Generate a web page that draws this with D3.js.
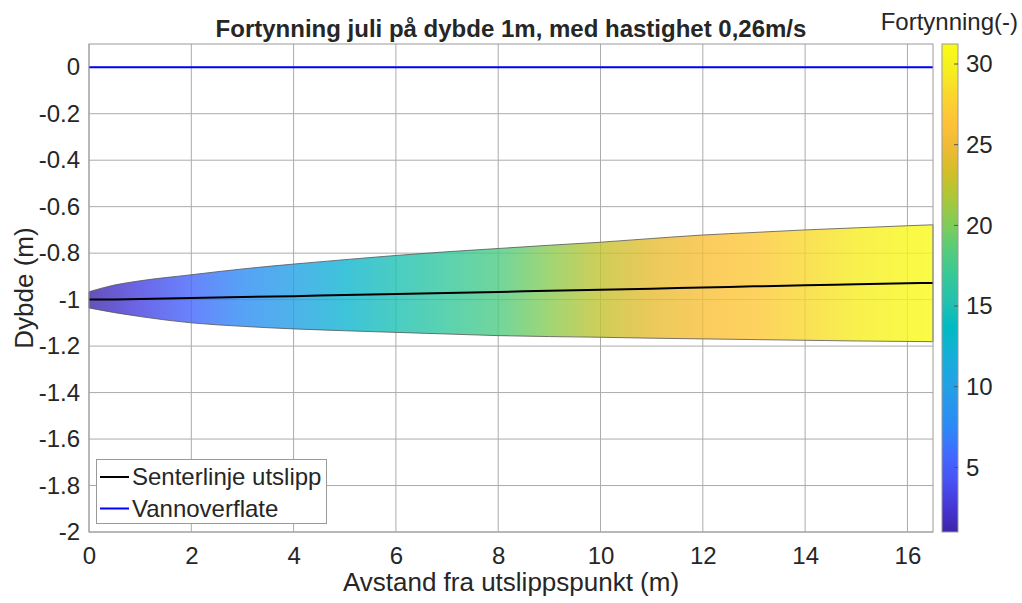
<!DOCTYPE html>
<html>
<head>
<meta charset="utf-8">
<script src="https://cdn.jsdelivr.net/npm/d3@7"></script>
<style>
  body { margin: 0; background: #fff; }
  text { font-family: "Liberation Sans", Arial, Helvetica, sans-serif; fill: #262626; }
</style>
</head>
<body>
<div id="chart"></div>
<script>
// data
var distance = [0, 0.5, 1, 2, 3, 4, 5, 6, 7, 8, 9, 10, 11, 12, 13, 14, 15, 16, 16.5];
var upperEdge = [-0.966, -0.937, -0.919, -0.893, -0.868, -0.847, -0.828, -0.810, -0.794, -0.780,
                 -0.766, -0.753, -0.737, -0.722, -0.711, -0.700, -0.691, -0.682, -0.678];
var lowerEdge = [-1.036, -1.056, -1.073, -1.100, -1.115, -1.126, -1.134, -1.141, -1.148, -1.155,
                 -1.159, -1.162, -1.166, -1.169, -1.172, -1.175, -1.178, -1.180, -1.181];
var centerline = [-1.000, -0.999, -0.997, -0.993, -0.989, -0.985, -0.980, -0.976, -0.971, -0.967,
                  -0.962, -0.958, -0.953, -0.948, -0.943, -0.938, -0.934, -0.930, -0.928];
var dilution = [1.0, 2.1, 3.2, 5.5, 7.8, 10.0, 12.6, 15.0, 16.6, 18.0,
                20.4, 22.7, 24.4, 25.8, 26.8, 28.2, 29.5, 30.7, 31.24];
var surfaceX = [0, 16.5];
var surfaceY = [0, 0];

var xTicks = [0, 2, 4, 6, 8, 10, 12, 14, 16];
var yTicks = [0, -0.2, -0.4, -0.6, -0.8, -1, -1.2, -1.4, -1.6, -1.8, -2];
var cbTicks = [5, 10, 15, 20, 25, 30];
var legendLabels = ["Senterlinje utslipp", "Vannoverflate"];

// parula colormap (every 4th entry of the 64-colour table)
var parula = [
  [0.2422, 0.1504, 0.6603], [0.2706, 0.2147, 0.8364], [0.2810, 0.3228, 0.9579],
  [0.2602, 0.4123, 0.9952], [0.1786, 0.5289, 0.9682], [0.1540, 0.5902, 0.9218],
  [0.1248, 0.6459, 0.8883], [0.0689, 0.6948, 0.8394], [0.0067, 0.7312, 0.7660],
  [0.1408, 0.7584, 0.6842], [0.2161, 0.7843, 0.5923], [0.3406, 0.8008, 0.4789],
  [0.5044, 0.7993, 0.3480], [0.6720, 0.7793, 0.2227], [0.8203, 0.7498, 0.1535],
  [0.9393, 0.7288, 0.2100], [0.9970, 0.7659, 0.2199], [0.9786, 0.8386, 0.1766],
  [0.9628, 0.9373, 0.1265], [0.9769, 0.9839, 0.0805]
];

var width = 1022,
    height = 603;

var svg = d3.select("#chart").append("svg")
    .attr("width", width)
    .attr("height", height);

var x = d3.scaleLinear().domain([0, 16.5]).range([89, 933]);
var y = d3.scaleLinear().domain([-2, 0.1]).range([532, 44]);

var cExtent = d3.extent(dilution);
var parulaScale = d3.scaleLinear()
    .domain(parula.map(function(d, i) { return i / (parula.length - 1); }))
    .range(parula.map(function(c) { return d3.rgb(c[0] * 255, c[1] * 255, c[2] * 255); }))
    .interpolate(d3.interpolateRgb);
var colorOf = function(v) { return parulaScale((v - cExtent[0]) / (cExtent[1] - cExtent[0])); };

var fmt = function(d) { return String(+d.toFixed(1)); };

var defs = svg.append("defs");

// horizontal gradient for the plume
var plumeGrad = defs.append("linearGradient")
    .attr("id", "plumeGrad")
    .attr("gradientUnits", "userSpaceOnUse")
    .attr("x1", x(0)).attr("x2", x(16.5))
    .attr("y1", 0).attr("y2", 0);
plumeGrad.selectAll("stop")
    .data(distance)
  .enter().append("stop")
    .attr("offset", function(d) { return d / 16.5; })
    .attr("stop-color", function(d, i) { return colorOf(dilution[i]); });

// vertical gradient for the colorbar
var cbGrad = defs.append("linearGradient")
    .attr("id", "cbGrad")
    .attr("x1", 0).attr("x2", 0).attr("y1", 1).attr("y2", 0);
cbGrad.selectAll("stop")
    .data(parula)
  .enter().append("stop")
    .attr("offset", function(d, i) { return i / (parula.length - 1); })
    .attr("stop-color", function(c) { return d3.rgb(c[0] * 255, c[1] * 255, c[2] * 255); });

// grid
svg.append("g").selectAll("line")
    .data(xTicks)
  .enter().append("line")
    .attr("x1", function(d) { return x(d); }).attr("x2", function(d) { return x(d); })
    .attr("y1", y(-2)).attr("y2", y(0.1))
    .attr("stroke", "#ababab").attr("stroke-width", 1);
svg.append("g").selectAll("line")
    .data(yTicks)
  .enter().append("line")
    .attr("x1", x(0)).attr("x2", x(16.5))
    .attr("y1", function(d) { return y(d); }).attr("y2", function(d) { return y(d); })
    .attr("stroke", "#ababab").attr("stroke-width", 1);

// plume area
var area = d3.area()
    .x(function(d, i) { return x(distance[i]); })
    .y0(function(d, i) { return y(lowerEdge[i]); })
    .y1(function(d, i) { return y(upperEdge[i]); })
    .curve(d3.curveMonotoneX);

svg.append("path")
    .datum(distance)
    .attr("d", area)
    .attr("fill", "url(#plumeGrad)")
    .attr("fill-opacity", 0.8)
    .attr("stroke", "#555")
    .attr("stroke-width", 0.8);

// centerline
var line = d3.line()
    .x(function(d, i) { return x(distance[i]); })
    .y(function(d, i) { return y(centerline[i]); })
    .curve(d3.curveMonotoneX);

svg.append("path")
    .datum(distance)
    .attr("d", line)
    .attr("fill", "none")
    .attr("stroke", "#000")
    .attr("stroke-width", 2);

// water surface
svg.append("path")
    .datum(surfaceX)
    .attr("d", d3.line()
        .x(function(d) { return x(d); })
        .y(function(d, i) { return y(surfaceY[i]); }))
    .attr("fill", "none")
    .attr("stroke", "#0000ff")
    .attr("stroke-width", 2);

// axes box
svg.append("rect")
    .attr("x", x(0)).attr("y", y(0.1))
    .attr("width", x(16.5) - x(0)).attr("height", y(-2) - y(0.1))
    .attr("fill", "none")
    .attr("stroke", "#9a9a9a").attr("stroke-width", 1);

var xAxis = svg.append("g")
    .attr("transform", "translate(0," + y(-2) + ")")
    .call(d3.axisBottom(x).tickValues(xTicks).tickFormat(fmt).tickSize(0).tickPadding(15));
var yAxis = svg.append("g")
    .attr("transform", "translate(" + x(0) + ",0)")
    .call(d3.axisLeft(y).tickValues(yTicks).tickFormat(fmt).tickSize(0).tickPadding(9));

[xAxis, yAxis].forEach(function(g) {
  g.select(".domain").remove();
  g.selectAll("text")
      .attr("fill", "#262626")
      .style("font-size", "24px")
      .style("font-family", "'Liberation Sans', Arial, sans-serif");
});

// axis labels and title
svg.append("text")
    .attr("x", (x(0) + x(16.5)) / 2).attr("y", 591)
    .attr("text-anchor", "middle")
    .style("font-size", "26px")
    .text("Avstand fra utslippspunkt (m)");

svg.append("text")
    .attr("transform", "translate(33," + (y(-2) + y(0.1)) / 2 + ") rotate(-90)")
    .attr("text-anchor", "middle")
    .style("font-size", "26px")
    .text("Dybde (m)");

svg.append("text")
    .attr("x", (x(0) + x(16.5)) / 2).attr("y", 37)
    .attr("text-anchor", "middle")
    .style("font-size", "24px")
    .style("font-weight", "bold")
    .attr("fill", "#000")
    .text("Fortynning juli på dybde 1m, med hastighet 0,26m/s");

// colorbar
var cy = d3.scaleLinear().domain(cExtent).range([532, 44]);
var cbX = 942, cbW = 16;

svg.append("rect")
    .attr("x", cbX).attr("y", cy(cExtent[1]))
    .attr("width", cbW).attr("height", cy(cExtent[0]) - cy(cExtent[1]))
    .attr("fill", "url(#cbGrad)")
    .attr("stroke", "#9a9a9a").attr("stroke-width", 1);

svg.append("g").selectAll("line")
    .data(cbTicks)
  .enter().append("line")
    .attr("x1", cbX + cbW - 4).attr("x2", cbX + cbW)
    .attr("y1", function(d) { return cy(d); }).attr("y2", function(d) { return cy(d); })
    .attr("stroke", "#555").attr("stroke-width", 1);

svg.append("g").selectAll("text")
    .data(cbTicks)
  .enter().append("text")
    .attr("x", cbX + cbW + 8)
    .attr("y", function(d) { return cy(d); })
    .attr("dy", "0.35em")
    .style("font-size", "24px")
    .text(function(d) { return d; });

svg.append("text")
    .attr("x", 1018).attr("y", 30)
    .attr("text-anchor", "end")
    .style("font-size", "24px")
    .text("Fortynning(-)");

// legend
var legend = svg.append("g");
legend.append("rect")
    .attr("x", 96.5).attr("y", 459.5)
    .attr("width", 230).attr("height", 64)
    .attr("fill", "#fff")
    .attr("stroke", "#9a9a9a").attr("stroke-width", 1);

var legendColors = ["#000", "#0000ff"];
var rows = legend.selectAll(".row")
    .data(legendLabels)
  .enter().append("g")
    .attr("class", "row")
    .attr("transform", function(d, i) { return "translate(100," + (477 + i * 31.5) + ")"; });
rows.append("line")
    .attr("x1", 0).attr("x2", 29)
    .attr("stroke", function(d, i) { return legendColors[i]; })
    .attr("stroke-width", 2);
rows.append("text")
    .attr("x", 32).attr("dy", "0.35em")
    .style("font-size", "24px")
    .text(function(d) { return d; });
</script>
</body>
</html>
